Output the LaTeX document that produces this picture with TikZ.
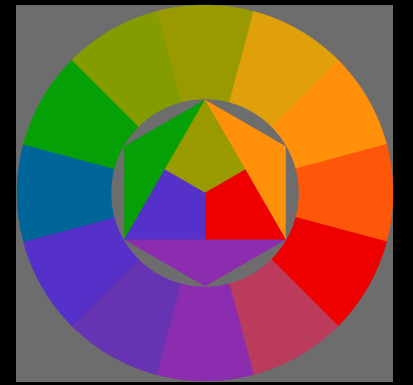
\documentclass[tikz,border=0pt]{standalone}
\usetikzlibrary{calc}
\definecolor{bgblack}{HTML}{000000}
\definecolor{bggray}{HTML}{6D6D6D}
\definecolor{cY}{HTML}{999A00}
\definecolor{cYO}{HTML}{E0A00A}
\definecolor{cO}{HTML}{FF900A}
\definecolor{cRO}{HTML}{FF570A}
\definecolor{cR}{HTML}{EF0000}
\definecolor{cRV}{HTML}{BA3B5C}
\definecolor{cV}{HTML}{8C2DB0}
\definecolor{cBV}{HTML}{6633B3}
\definecolor{cB}{HTML}{5531C9}
\definecolor{cBG}{HTML}{006699}
\definecolor{cG}{HTML}{05A005}
\definecolor{cYG}{HTML}{859C00}
\begin{document}
\begin{tikzpicture}[x=1pt,y=1pt,line join=round]
\useasboundingbox (-205,-192) rectangle (208,193);
\fill[bgblack] (-205,-192) rectangle (208,193);
\fill[bggray] (-189,-189) rectangle (188,188);
% outer ring of twelve hues
\foreach \a/\c in {90/cY,60/cYO,30/cO,0/cRO,-30/cR,-60/cRV,-90/cV,-120/cBV,-150/cB,180/cBG,150/cG,120/cYG}{
  \fill[\c,draw=\c,line width=0.3pt] (\a-15:188) arc[start angle=\a-15,end angle=\a+15,radius=188]
     -- (\a+15:94) arc[start angle=\a+15,end angle=\a-15,radius=94] -- cycle;
}
% hexagon star
\coordinate (O) at (0,0);
\coordinate (T) at (90:93);
\coordinate (UR) at (30:93);
\coordinate (LR) at (-30:93);
\coordinate (B) at (-90:93);
\coordinate (LL) at (210:93);
\coordinate (UL) at (150:93);
\coordinate (MR) at ($(T)!0.5!(LR)$);
\coordinate (ML) at ($(T)!0.5!(LL)$);
\coordinate (MB) at ($(LL)!0.5!(LR)$);
\fill[cG,draw=cG,line width=0.3pt] (T) -- (UL) -- (LL) -- cycle;
\fill[cO,draw=cO,line width=0.3pt] (T) -- (UR) -- (LR) -- cycle;
\fill[cV,draw=cV,line width=0.3pt] (LL) -- (B) -- (LR) -- cycle;
\fill[cY,draw=cY,line width=0.3pt] (T) -- (MR) -- (O) -- (ML) -- cycle;
\fill[cR,draw=cR,line width=0.3pt] (O) -- (MR) -- (LR) -- (MB) -- cycle;
\fill[cB,draw=cB,line width=0.3pt] (O) -- (MB) -- (LL) -- (ML) -- cycle;
\end{tikzpicture}
\end{document}
